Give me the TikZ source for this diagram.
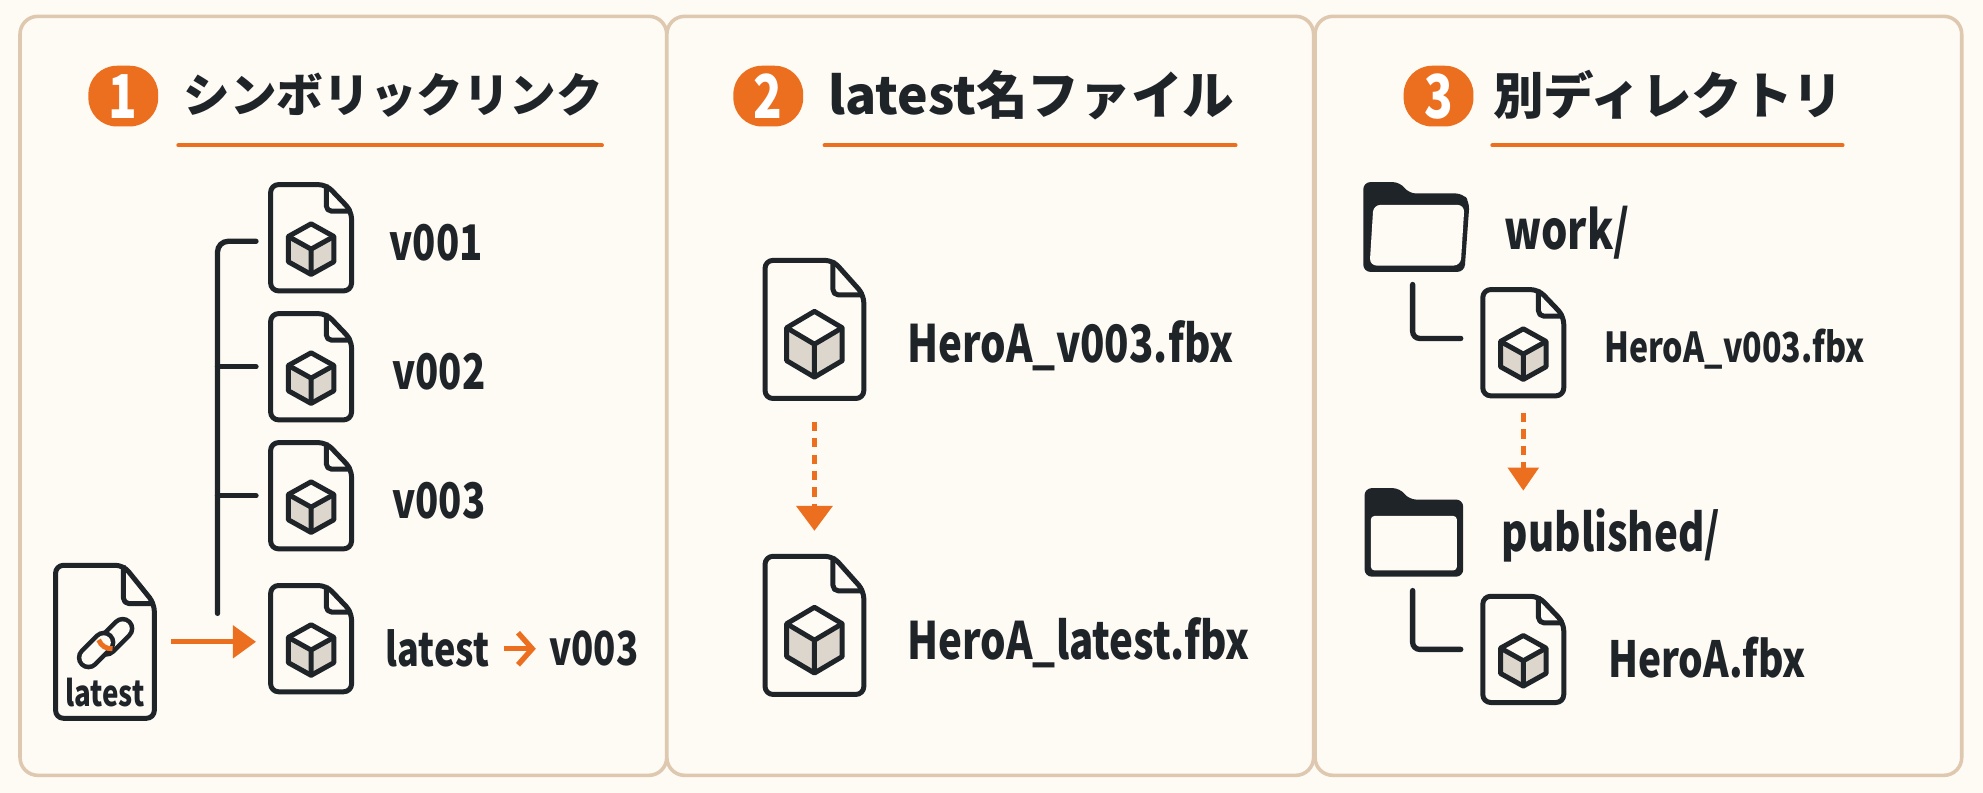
\documentclass[tikz,border=0pt]{standalone}
\usepackage{fontspec}
\usepackage{tikz}
\usetikzlibrary{arrows.meta, calc, positioning}
\newfontfamily\jpfont{Noto Sans CJK JP}
\newfontfamily\labfont[FakeStretch=0.78]{Noto Sans CJK JP}
\newcommand{\labsize}[1]{\labfont\bfseries\fontsize{#1}{#1}\selectfont}
\newcommand{\titlesize}[1]{\jpfont\bfseries\fontsize{#1}{#1}\selectfont}
\definecolor{ink}{HTML}{1F2429}
\definecolor{accent}{HTML}{EC6F1F}
\definecolor{cream}{HTML}{FEFAF4}
\definecolor{edge}{HTML}{DEC8AF}
\definecolor{cubeface}{HTML}{DDD6CC}
% outline of a page with a folded corner
\newcommand{\docoutline}{
  \draw[icon, rounded corners=2.2pt] (-32,-42) -- (12,-42) -- (32,-21) -- (32,42) -- (-32,42) -- cycle;
  \draw[icon, rounded corners=1.5pt] (12,-42) -- (12,-21) -- (32,-21);
}

\begin{document}
\begin{tikzpicture}[x=0.0125cm, y=-0.0125cm]
  % --- Styles ---
  \tikzset{
    panel/.style={draw=edge, fill=cream, line width=1pt, rounded corners=5pt, minimum width=6.39cm, minimum height=7.5cm, inner sep=0pt},
    badge/.style={fill=accent, text=white, rounded corners=8pt, minimum width=0.69cm, minimum height=0.6cm, inner sep=0pt, font=\labsize{17}},
    title/.style={text=ink, inner sep=0pt, font=\titlesize{13.1}},
    rule/.style={accent, line width=1.1pt, line cap=round},
    lab/.style={text=ink, inner sep=0pt, font=\labsize{14.5}},
    icon/.style={ink, line width=1.4pt, line join=round},
    tree/.style={ink, line width=1.5pt, line cap=round},
    small file/.style={inner sep=0pt, minimum width=0.8cm, minimum height=1.05cm},
    large file/.style={inner sep=0pt, minimum width=0.975cm, minimum height=1.3625cm},
    link file/.style={inner sep=0pt, minimum width=0.975cm, minimum height=1.5125cm},
    folder box/.style={inner sep=0pt, minimum width=1.03cm, minimum height=0.88cm},
    orange arrow/.style={accent, line width=1.4pt, -{Triangle[length=6.5pt, width=9pt]}},
    dashed arrow/.style={accent, line width=1.4pt, dash pattern=on 2.6pt off 2pt, -{Triangle[length=7pt, width=10pt]}},
    docfile/.pic={\docoutline},
    cubefile/.pic={
      \docoutline
      \fill[cubeface] (-18,-1) -- (0,9) -- (18,-1) -- (18,19) -- (0,29) -- (-18,19) -- cycle;
      \draw[icon] (0,-11) -- (18,-1) -- (18,19) -- (0,29) -- (-18,19) -- (-18,-1) -- cycle;
      \draw[icon] (-18,-1) -- (0,9) -- (18,-1) (0,9) -- (0,29);
    }
  }

  % --- Page and the three panels ---
  \fill[cream] (0,0) rectangle (1568,627);
  \node[panel] (panelA) at (271.5,313) {};
  \node[panel] (panelB) at (783,313) {};
  \node[panel] (panelC) at (1295.5,313) {};

  % --- Headings ---
  \node[badge] (badgeA) at (97.5,76) {1};
  \node[badge] (badgeB) at (607.5,76) {2};
  \node[badge] (badgeC) at (1137.5,76) {3};
  \node[title] (titleA) at (311,75) {シンボリックリンク};
  \node[title, font=\titlesize{14.5}] (titleB) at (815.5,75) {latest名ファイル};
  \node[title, font=\titlesize{14.2}] (titleC) at (1319,75) {別ディレクトリ};
  \draw[rule] (141,115) -- (476,115);
  \draw[rule] (652,115) -- (977,115);
  \draw[rule] (1180,115) -- (1457,115);

  % --- Panel 1: versions and the link ---
  \node[small file] (fileOne) at (246,188) {};
  \node[small file] (fileTwo) at (246,290) {};
  \node[small file] (fileThree) at (246,392) {};
  \node[small file] (fileLatest) at (246,505) {};
  \node[link file] (linkFile) at (83,507.5) {};
  \pic at (fileOne) {cubefile};
  \pic at (fileTwo) {cubefile};
  \pic at (fileThree) {cubefile};
  \pic at (fileLatest) {cubefile};
  \pic[xscale=1.22, yscale=1.44] at (linkFile) {docfile};

  % the chain on the link file
  \draw[ink, line width=6.6pt, line cap=round] (84,510) -- (97,497);
  \draw[cream, line width=4pt, line cap=round] (84,510) -- (97,497);
  \draw[ink, line width=6.6pt, line cap=round] (70,520) -- (82,508);
  \draw[cream, line width=4pt, line cap=round] (70,520) -- (82,508);
  \draw[accent, line width=1.4pt] (78,506) to[bend right=35] (89,513);
  \node[text=ink, inner sep=0pt, font=\labsize{10}] (linkText) at (83,548) {latest};

  \coordinate (stemEnd) at (172,485);
  \draw[tree, rounded corners=3pt, shorten <=11*0.3556pt] ([yshift=-1pt]fileOne.west) -| (stemEnd);
  \draw[tree, shorten >=11*0.3556pt] (stemEnd |- fileTwo.west) -- (fileTwo.west);
  \draw[tree, shorten >=11*0.3556pt] (stemEnd |- fileThree.west) -- (fileThree.west);
  \draw[orange arrow, shorten <=4.6pt, shorten >=3.9pt] (linkFile.east) -- (linkFile.east -| fileLatest.west);

  \node[lab, font=\labsize{13.8}] (labOne) at (345,192) {v001};
  \node[lab, font=\labsize{13.8}] (labTwo) at (347,294) {v002};
  \node[lab, font=\labsize{13.8}] (labThree) at (347,396) {v003};
  \node[lab, font=\labsize{13}] (labLatest) at (346,513) {latest};
  \node[lab, font=\labsize{13.2}] (labTarget) at (469.5,513) {v003};
  \draw[accent, line width=1.5pt, -{Straight Barb[length=4pt, width=9pt]}] (labLatest.east) ++(11,0) -- ($(labTarget.west)+(-10,0)$);

  % --- Panel 2: a copy under a latest name ---
  \node[large file] (fileVersion) at (644,260.5) {};
  \node[large file] (fileCopy) at (644,494.5) {};
  \pic[xscale=1.22, yscale=1.3] at (fileVersion) {cubefile};
  \pic[xscale=1.22, yscale=1.3] at (fileCopy) {cubefile};
  \draw[dashed arrow, shorten <=6.4pt, shorten >=7pt] (fileVersion.south) -- (fileCopy.north);
  \node[lab, anchor=west] (labVersion) at (717,273) {HeroA\_v003.fbx};
  \node[lab, anchor=west] (labCopy) at (717,508) {HeroA\_latest.fbx};

  % --- Panel 3: folders ---
  \node[folder box] (workDir) at (1120,180) {};
  \node[folder box] (pubDir) at (1118,421) {};
  \node[small file] (fileWork) at (1204.5,271) {};
  \node[small file] (filePub) at (1204.5,513.5) {};
  \pic at (fileWork) {cubefile};
  \pic at (filePub) {cubefile};

  % work folder
  \fill[ink, rounded corners=2pt] (1078,144) -- (1107,144) -- (1114,153) -- (1157,153) -- (1162,160) -- (1158,215) -- (1078,215) -- cycle;
  \fill[cream, rounded corners=2pt] (1086,162) -- (1158,162) -- (1155,210) -- (1083,210) -- cycle;
  % published folder
  \fill[ink, rounded corners=2pt] (1079,386) -- (1107,386) -- (1114,395) -- (1157,395) -- (1157,456) -- (1079,456) -- cycle;
  \fill[cream, rounded corners=1pt] (1084,408) -- (1152,408) -- (1152,451) -- (1084,451) -- cycle;

  \coordinate (workHook) at (1117,225);
  \coordinate (pubHook) at (1117,467);
  \coordinate (pubTip) at (1204.5,388);
  \draw[tree, rounded corners=2pt, shorten >=6pt] (workHook) |- ([yshift=1.2pt]fileWork.west);
  \draw[tree, rounded corners=2pt, shorten >=6pt] (pubHook) |- (filePub.west);
  \draw[dashed arrow, -{Triangle[length=6.5pt, width=8.5pt]}, shorten <=4.6pt] (fileWork.south) -- (pubTip);

  \node[lab, anchor=west, font=\labsize{15}] (labWork) at (1189,184) {work/};
  \node[lab, anchor=west] (labPub) at (1187,423) {published/};
  \node[lab, anchor=west, font=\labsize{11.6}] (labHeroWork) at (1268,276) {HeroA\_v003.fbx};
  \node[lab, anchor=west, font=\labsize{14}] (labHeroPub) at (1271,520) {HeroA.fbx};
\end{tikzpicture}
\end{document}
